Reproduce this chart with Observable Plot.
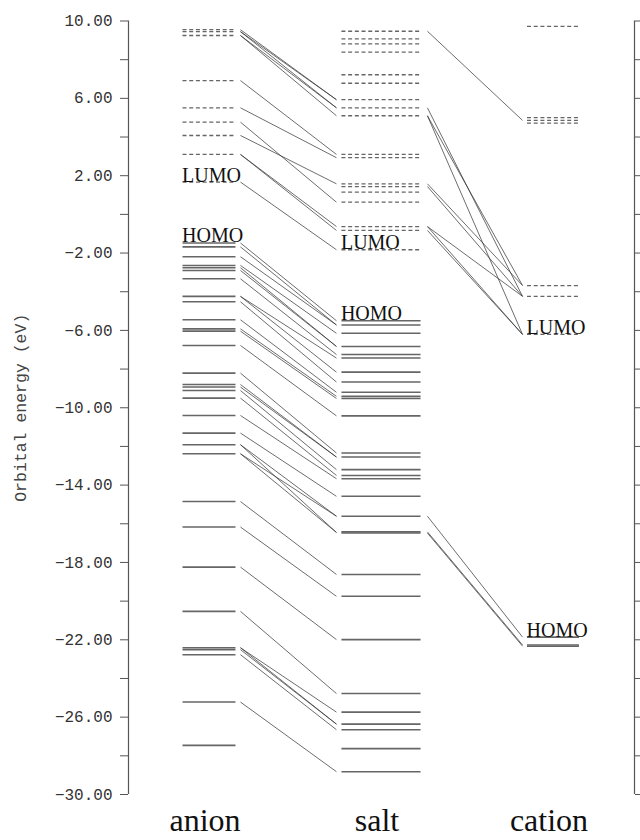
<!DOCTYPE html>
<html>
<head>
<meta charset="utf-8">
<script src="https://cdn.jsdelivr.net/npm/d3@7"></script>
<script src="https://cdn.jsdelivr.net/npm/@observablehq/plot@0.6"></script>
<style>
  html, body { margin: 0; padding: 0; background: #fff; }
  #chart { width: 640px; height: 840px; overflow: hidden; }
</style>
</head>
<body>
<div id="chart"></div>
<script>
// ---- Data (orbital energies in eV) ----
const columns = ["anion", "salt", "cation"];

const anionVirtual = [9.55, 9.45, 9.25, 6.92, 5.51, 4.77, 4.08, 3.10, 1.67];
const anionOccupied = [-1.48, -1.68, -2.19, -2.64, -2.76, -2.90, -3.33, -4.24, -4.52, -5.45,
  -5.92, -6.04, -6.78, -8.21, -8.80, -8.93, -9.11, -9.50, -10.40, -11.31, -11.91, -12.38,
  -14.85, -16.17, -18.24, -20.53, -22.41, -22.51, -22.77, -25.22, -27.46];

const saltVirtual = [9.47, 9.08, 8.82, 8.39, 7.22, 6.78, 5.93, 5.51, 5.10, 3.10, 2.93,
  1.58, 1.44, 1.15, 0.63, -0.63, -0.83, -1.83];
const saltOccupied = [-5.50, -5.72, -6.15, -6.83, -7.25, -7.43, -8.16, -8.67, -9.20, -9.41,
  -9.52, -10.42, -12.34, -12.55, -13.20, -13.50, -13.67, -14.58, -15.61, -16.42, -16.48,
  -18.62, -19.75, -21.99, -24.78, -25.74, -26.36, -26.65, -27.63, -28.82];

const cationVirtual = [9.72, 5.00, 4.86, 4.72, -3.68, -4.24, -6.21];
const cationOccupied = [-21.86, -22.27, -22.33];

// correlation lines anion -> salt (from energy, to energy)
const anionSaltFrom = [9.55, 9.45, 9.45, 9.25, 9.25, 6.92, 5.51, 4.77, 4.08, 3.10, 3.10, 1.67,
  -1.48, -1.68, -2.19, -2.64, -2.76, -2.90, -3.33, -4.24, -4.24, -4.52, -5.45, -5.92, -6.04,
  -6.78, -8.21, -8.80, -8.93, -9.11, -9.50, -10.40, -11.31, -11.91, -11.91, -12.38, -12.38,
  -14.85, -16.17, -18.24, -20.53, -22.41, -22.41, -22.51, -22.77, -25.22];
const anionSaltTo = [5.93, 5.51, 5.93, 5.51, 5.10, 3.10, 2.93, 0.63, 1.58, -0.63, -0.83, -1.83,
  -5.50, -5.72, -5.72, -6.15, -6.83, -6.83, -7.25, -7.43, -8.16, -8.67, -9.20, -9.41, -9.52,
  -10.42, -12.34, -12.55, -12.55, -13.20, -13.50, -13.67, -14.58, -15.61, -16.45, -15.61, -16.45,
  -18.62, -19.75, -21.99, -24.78, -25.74, -26.36, -26.36, -26.65, -28.82];

// correlation lines salt -> cation
const saltCationFrom = [9.47, 5.51, 5.10, 5.10, 1.58, 1.44, -0.63, -0.63, -0.83, -15.61, -16.42, -16.48];
const saltCationTo = [4.86, -4.24, -3.68, -6.21, -3.68, -4.24, -4.24, -6.21, -6.21, -21.86, -22.27, -22.33];

// frontier-orbital labels
const labelText = ["LUMO", "HOMO", "LUMO", "HOMO", "LUMO", "HOMO"];
const labelCol = [0, 0, 1, 1, 2, 2];
const labelEnergy = [1.67, -1.48, -1.83, -5.50, -6.21, -21.86];

const yTicks = d3.range(-30, 10.001, 2);

// ---- Layout (not data) ----
const halfWidth = [0.154, 0.23, 0.151];          // level half widths per column (x units)
const linkStart = [0.183, 0.27];                  // connector start offset right of column
const linkEnd = [-0.259, -0.177];                 // connector end offset left of next column
const labelDx = [[0, -2], [12, 15], [-4, -2]];    // px offsets for LUMO/HOMO labels
const labelDy = [[-4, -6], [-2, -3], [-1.5, -2]];

// ---- Build tables ----
const levels = [];
[[anionVirtual, anionOccupied], [saltVirtual, saltOccupied], [cationVirtual, cationOccupied]]
  .forEach(([virt, occ], c) => {
    virt.forEach(e => levels.push({col: c, e, occ: false}));
    occ.forEach(e => levels.push({col: c, e, occ: true}));
  });

const links = [];
anionSaltFrom.forEach((e, i) => links.push({c: 0, from: e, to: anionSaltTo[i]}));
saltCationFrom.forEach((e, i) => links.push({c: 1, from: e, to: saltCationTo[i]}));

const labels = labelText.map((t, i) => {
  const c = labelCol[i];
  const k = t === "LUMO" ? 0 : 1;
  return {t, col: c, e: labelEnergy[i], dx: labelDx[c][k], dy: labelDy[c][k]};
});

const xDomain = [-0.468, 2.474];
const fmt = d3.format(".2f");

const serif = "'Liberation Serif', 'Times New Roman', serif";
const mono = "'Liberation Mono', 'DejaVu Sans Mono', monospace";

const chart = Plot.plot({
  width: 640,
  height: 840,
  marginLeft: 128,
  marginRight: 6,
  marginTop: 20.5,
  marginBottom: 46,
  style: {fontFamily: mono, fontSize: "16px", color: "#444", background: "#fff"},
  x: {domain: xDomain, axis: null},
  y: {domain: [-30, 10], axis: null},
  marks: [
    // axis lines
    Plot.ruleX(xDomain, {y1: -30, y2: 10, stroke: "#555", strokeWidth: 1.2}),
    Plot.axisY({
      anchor: "left", ticks: yTicks, tickSize: 8, tickPadding: 8,
      tickFormat: d => ((10 - d) % 4 === 0 ? fmt(d) : ""),
      fontSize: 16, fontFamily: mono, fill: "#333", stroke: "#555"
    }),
    Plot.axisY({
      anchor: "right", ticks: yTicks, tickSize: 8, tickFormat: () => "", stroke: "#555"
    }),
    Plot.text(["Orbital energy (eV)"], {
      frameAnchor: "left", dx: -108, rotate: -90, textAnchor: "middle", lineAnchor: "middle",
      fontSize: 16.5, fontFamily: mono, fill: "#444"
    }),
    // connectors
    Plot.link(links, {
      x1: d => d.c + linkStart[d.c], y1: "from",
      x2: d => d.c + 1 + linkEnd[d.c], y2: "to",
      stroke: "#333", strokeWidth: 0.8, strokeOpacity: 0.9
    }),
    // virtual (unoccupied) levels: dashed
    Plot.link(levels.filter(d => !d.occ), {
      x1: d => d.col - halfWidth[d.col], x2: d => d.col + halfWidth[d.col],
      y1: "e", y2: "e", stroke: "#666", strokeWidth: 1.3, strokeDasharray: "4,2.7"
    }),
    // occupied levels: solid
    Plot.link(levels.filter(d => d.occ), {
      x1: d => d.col - halfWidth[d.col], x2: d => d.col + halfWidth[d.col],
      y1: "e", y2: "e", stroke: "#666", strokeWidth: 1.6
    }),
    // HOMO / LUMO labels
    Plot.text(labels, {
      x: d => d.col - halfWidth[d.col], y: "e", text: "t",
      dx: d => d.dx, dy: d => d.dy,
      textAnchor: "start", lineAnchor: "bottom",
      fontSize: 20, fontFamily: serif, fill: "#111"
    }),
    // column names
    Plot.text(columns, {
      x: (d, i) => i, text: d => d, frameAnchor: "bottom",
      lineAnchor: "top", dy: 14, dx: -4,
      fontSize: 32, fontFamily: serif, fill: "#111"
    })
  ]
});

document.getElementById("chart").appendChild(chart);
</script>
</body>
</html>
